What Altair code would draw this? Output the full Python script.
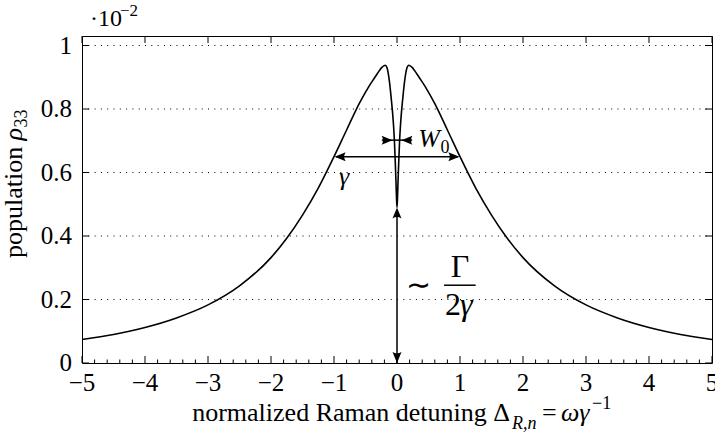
import altair as alt
import pandas as pd

# ---- curve (x in units of gamma, y in units of 1e-2) ----
x_vals = [-5, -4.5, -4, -3.5, -3, -2.5, -2, -1.75, -1.5, -1.25, -1, -0.8, -0.6,
          -0.45, -0.35, -0.28, -0.24, -0.21, -0.185, -0.16, -0.14, -0.12, -0.1,
          -0.085, -0.07, -0.055, -0.04, -0.027, -0.016, -0.008, 0,
          0.008, 0.016, 0.027, 0.04, 0.055, 0.07, 0.085, 0.1, 0.12, 0.14, 0.16,
          0.185, 0.21, 0.24, 0.28, 0.35, 0.45, 0.6, 0.8, 1, 1.25, 1.5, 1.75, 2,
          2.5, 3, 3.5, 4, 4.5, 5]
y_vals = [0.074, 0.090, 0.112, 0.142, 0.183, 0.243, 0.332, 0.393, 0.466, 0.551,
          0.650, 0.734, 0.817, 0.870, 0.900, 0.921, 0.931, 0.936, 0.938, 0.931,
          0.914, 0.886, 0.850, 0.820, 0.788, 0.748, 0.695, 0.630, 0.570, 0.520,
          0.490,
          0.520, 0.570, 0.630, 0.695, 0.748, 0.788, 0.820, 0.850, 0.886, 0.914,
          0.931, 0.938, 0.936, 0.931, 0.921, 0.900, 0.870, 0.817, 0.734, 0.650,
          0.551, 0.466, 0.393, 0.332, 0.243, 0.183, 0.142, 0.112, 0.090, 0.074]

x_ticks = [-5, -4, -3, -2, -1, 0, 1, 2, 3, 4, 5]
x_tick_labels = ["−5", "−4", "−3", "−2", "−1", "0", "1", "2", "3", "4", "5"]
y_ticks = [0, 0.2, 0.4, 0.6, 0.8, 1.0]
y_tick_labels = ["0", "0.2", "0.4", "0.6", "0.8", "1"]
x_minor = [round(i * 0.2, 1) for i in range(-25, 26) if i % 5 != 0]

# annotation geometry (data coordinates)
arrow_x1 = [0, -0.97, -0.24, 0.747]
arrow_x2 = [0, 0.97, 0.24, 1.248]
arrow_y1 = [0.0, 0.65, 0.702, 0.245]
arrow_y2 = [0.47, 0.65, 0.702, 0.245]
head_x = [0, 0, -0.99, 0.99, -0.07, 0.07]
head_y = [0.49, 0.0, 0.65, 0.65, 0.702, 0.702]
head_angle = [180, 0, 90, 270, 270, 90]

W, H = 630, 327
FONT = "Liberation Serif"
FS = 25
xsc = alt.Scale(domain=[-5, 5], nice=False, zero=False)
ysc = alt.Scale(domain=[0, 1.03], nice=False, zero=False)


def xq(field):
    return alt.X(field, scale=xsc, axis=None)


def yq(field):
    return alt.Y(field, scale=ysc, axis=None)


xt = pd.DataFrame({"v": x_ticks, "lab": x_tick_labels})
xm = pd.DataFrame({"v": x_minor})
yt = pd.DataFrame({"v": y_ticks, "lab": y_tick_labels})

grid = alt.Chart(pd.DataFrame({"v": y_ticks[1:]})).mark_rule(
    color="black", strokeWidth=1.1, strokeDash=[1, 5.3]
).encode(y=yq("v:Q"), x=alt.value(0), x2=alt.value(W))

curve = alt.Chart(pd.DataFrame({"x": x_vals, "y": y_vals})).mark_line(
    color="black", strokeWidth=1.6, interpolate="monotone"
).encode(x=xq("x:Q"), y=yq("y:Q"))

ticks = [
    alt.Chart(xt).mark_rule(color="black", strokeWidth=1).encode(
        x=xq("v:Q"), y=alt.value(H), y2=alt.value(H - 7)),
    alt.Chart(xm).mark_rule(color="black", strokeWidth=1).encode(
        x=xq("v:Q"), y=alt.value(H), y2=alt.value(H - 3.5)),
    alt.Chart(xt).mark_rule(color="black", strokeWidth=1).encode(
        x=xq("v:Q"), y=alt.value(0), y2=alt.value(7)),
    alt.Chart(yt).mark_rule(color="black", strokeWidth=1).encode(
        y=yq("v:Q"), x=alt.value(0), x2=alt.value(7)),
    alt.Chart(yt).mark_rule(color="black", strokeWidth=1).encode(
        y=yq("v:Q"), x=alt.value(W), x2=alt.value(W - 7)),
]

tick_labels = [
    alt.Chart(xt).mark_text(font=FONT, fontSize=FS, baseline="top",
                            align="center", color="black").encode(
        x=xq("v:Q"), y=alt.value(H + 8), text="lab:N"),
    alt.Chart(yt).mark_text(font=FONT, fontSize=FS, baseline="middle",
                            align="right", color="black").encode(
        y=yq("v:Q"), x=alt.value(-10), text="lab:N"),
]

arrows = alt.Chart(pd.DataFrame({"x1": arrow_x1, "x2": arrow_x2,
                                 "y1": arrow_y1, "y2": arrow_y2})).mark_rule(
    color="black", strokeWidth=1.5
).encode(x=xq("x1:Q"), x2="x2:Q", y=yq("y1:Q"), y2="y2:Q")

HEAD = "M0,0 L-0.45,-1.1 Q0,-0.82 0.45,-1.1 Z"
heads = alt.Chart(pd.DataFrame({"x": head_x, "y": head_y, "a": head_angle})).mark_point(
    shape=HEAD, filled=True, color="black", opacity=1, size=400, strokeWidth=0
).encode(x=xq("x:Q"), y=yq("y:Q"), angle=alt.Angle("a:Q", scale=None))


def dtext(txt, x, y, size=FS, italic=False, align="left", baseline="alphabetic"):
    return alt.Chart(pd.DataFrame({"t": [txt], "x": [x], "y": [y]})).mark_text(
        font=FONT, fontSize=size, fontStyle="italic" if italic else "normal",
        align=align, baseline=baseline, color="black"
    ).encode(x=xq("x:Q"), y=yq("y:Q"), text="t:N")


def ptext(txt, x, y, size=FS, italic=False, align="left", baseline="alphabetic", angle=0):
    kw = dict(font=FONT, fontSize=size, fontStyle="italic" if italic else "normal",
              align=align, baseline=baseline, color="black")
    if angle:
        kw["angle"] = angle
    return alt.Chart(pd.DataFrame({"t": [txt]})).mark_text(**kw).encode(
        x=alt.value(x), y=alt.value(y), text="t:N")


annotations = [
    dtext("γ", -0.84, 0.586, size=26, italic=True, align="center", baseline="middle"),
    dtext("W", 0.336, 0.68, size=26, italic=True),
    dtext("0", 0.69, 0.66, size=18),
    dtext("∼", 0.336, 0.243, size=30, align="center", baseline="middle"),
    dtext("Γ", 1.0, 0.271, size=32, align="center"),
    dtext("2", 0.763, 0.151, size=32),
    dtext("γ", 1.0, 0.151, size=32, italic=True),
]

titles = [
    # x title
    ptext("normalized Raman detuning Δ", 428, 385, size=26, align="right"),
    ptext("R,n", 430, 393, size=18, italic=True),
    ptext("=", 460, 385, size=26),
    ptext("ωγ", 479, 385, size=26, italic=True),
    ptext("−1", 510, 373, size=18),
    # y title (rotated)
    ptext("population", -60, 222, size=26, angle=270),
    ptext("ρ", -60, 104.5, size=26, italic=True, angle=270),
    ptext("33", -55, 91.5, size=18, angle=270),
    # scale factor
    ptext("·10", 8, -10, size=24),
    ptext("−2", 38, -20, size=17),
]

chart = alt.layer(
    grid, curve, *ticks, *tick_labels, arrows, heads, *annotations, *titles
).properties(
    width=W, height=H,
    autosize=alt.AutoSizeParams(type="none"),
    padding={"left": 82, "top": 36, "right": 3, "bottom": 73},
).configure_view(stroke="black", strokeWidth=1)

chart.save("out.html", embed_options={"renderer": "svg", "actions": False})
